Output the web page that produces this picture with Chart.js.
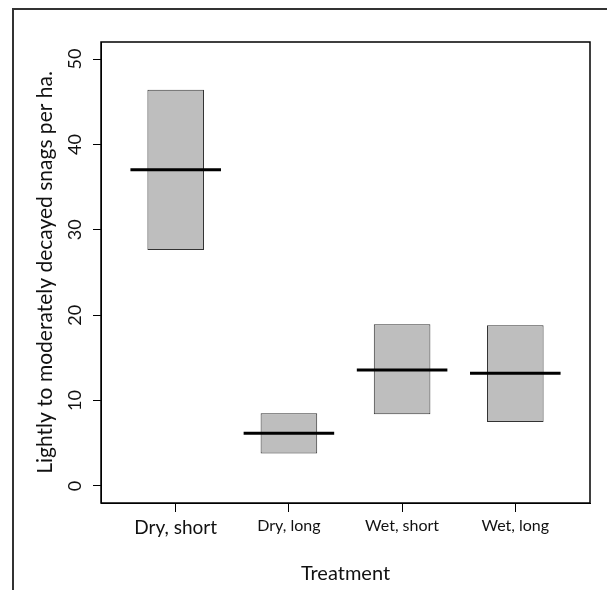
<!DOCTYPE html>
<html lang="en">
<head>
  <meta charset="UTF-8">
  <title>Lightly to moderately decayed snags per ha.</title>
  <script src="https://cdn.jsdelivr.net/npm/chart.js"></script>
  <style>
    html, body { margin: 0; padding: 0; background: #fff; }
    #wrap { position: relative; width: 607px; height: 590px; overflow: hidden; }
    #frame { position: absolute; left: 12px; top: 8px; right: -10px; bottom: -10px;
             border-top: 2px solid #333; border-left: 2px solid #333; }
    canvas { position: absolute; left: 0; top: 0; }
  </style>
</head>
<body>
<div id="wrap">
  <div id="frame"></div>
  <canvas id="myChart" width="607" height="590"></canvas>
</div>

<script>
  // treatments and the box values
  const categories = ['Dry, short', 'Dry, long', 'Wet, short', 'Wet, long'];
  const lows = [27.65, 3.79, 8.4, 7.5];
  const highs = [46.4, 8.52, 18.94, 18.83];
  const medians = [37.03, 6.17, 13.59, 13.2];
  const yTicks = [0, 10, 20, 30, 40, 50];
  const xTicks = [1, 2, 3, 4];

  const font = 'Lato, "Open Sans", sans-serif';

  // one segment per group, broken with a null point
  const medianPoints = [];
  medians.forEach((m, i) => {
    medianPoints.push({x: i + 1 - 0.4, y: m}, {x: i + 1 + 0.4, y: m}, {x: i + 1.5, y: null});
  });

  const plotBox = {
    id: 'plotBox',
    afterDraw(chart) {
      const {ctx, chartArea: a} = chart;
      ctx.save();
      ctx.strokeStyle = '#000';
      ctx.lineWidth = 1.5;
      ctx.strokeRect(a.left, a.top, a.right - a.left, a.bottom - a.top);
      ctx.restore();
    }
  };

  const ctx = document.getElementById('myChart').getContext('2d');
  new Chart(ctx, {
    type: 'bar',
    data: {
      datasets: [
        {
          type: 'line',
          label: 'median',
          data: medianPoints,
          borderColor: '#000',
          borderWidth: 3,
          pointRadius: 0,
          spanGaps: false,
          order: 0
        },
        {
          label: 'range',
          data: categories.map((c, i) => ({x: i + 1, y: [lows[i], highs[i]]})),
          backgroundColor: '#bebebe',
          borderColor: '#333',
          borderWidth: 1,
          borderSkipped: false,
          barPercentage: 0.5,
          categoryPercentage: 1,
          order: 1
        }
      ]
    },
    options: {
      responsive: false,
      animation: false,
      layout: { padding: { top: 42, right: 17, left: 0, bottom: 0 } },
      plugins: { legend: { display: false }, tooltip: { enabled: false } },
      scales: {
        x: {
          type: 'linear',
          min: 0.34,
          max: 4.66,
          offset: false,
          afterFit: s => { s.height = 87; },
          afterBuildTicks: s => { s.ticks = xTicks.map(v => ({value: v})); },
          grid: { offset: false, drawOnChartArea: false, drawTicks: true, tickLength: 9, color: '#000', lineWidth: 1 },
          border: { display: true, color: '#000', width: 1 },
          ticks: {
            color: '#111',
            padding: 4,
            maxRotation: 0,
            autoSkip: false,
            font: c => ({ family: font, size: c.index === 0 ? 19 : 16 }),
            callback: v => categories[v - 1]
          },
          title: {
            display: true,
            text: 'Treatment',
            color: '#111',
            font: { family: font, size: 20, lineHeight: 1.2 },
            padding: { top: 0, bottom: 4 }
          }
        },
        y: {
          min: -2,
          max: 52,
          afterFit: s => { s.width = 101; },
          afterBuildTicks: s => { s.ticks = yTicks.map(v => ({value: v})); },
          grid: { drawOnChartArea: false, drawTicks: true, tickLength: 8, color: '#000', lineWidth: 1 },
          border: { display: true, color: '#000', width: 1 },
          ticks: {
            color: '#111',
            padding: 7,
            minRotation: 90,
            maxRotation: 90,
            crossAlign: 'center',
            font: { family: font, size: 18 }
          },
          title: {
            display: true,
            text: 'Lightly to moderately decayed snags per ha.',
            color: '#111',
            font: { family: font, size: 21, lineHeight: 1.2 },
            padding: { top: 33, bottom: 0 }
          }
        }
      }
    },
    plugins: [plotBox]
  });
</script>
</body>
</html>
